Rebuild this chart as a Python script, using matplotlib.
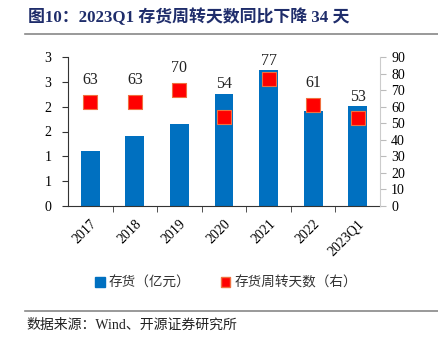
import matplotlib
matplotlib.use('Agg')
import matplotlib.pyplot as plt
from matplotlib.lines import Line2D
from matplotlib.patches import Patch

plt.rcParams['font.family'] = ['Liberation Serif', 'Noto Sans CJK SC']

years = ['2017', '2018', '2019', '2020', '2021', '2022', '2023Q1']
inventory = [1.11, 1.41, 1.66, 2.26, 2.74, 1.91, 2.01]   # left axis
turnover_days = [63, 63, 70, 54, 77, 61, 53]            # right axis
left_ticks = [0, 0.5, 1, 1.5, 2, 2.5, 3]
left_labels = ['0', '1', '1', '2', '2', '3', '3']      # excel rounds 0.5 steps
right_ticks = [0, 10, 20, 30, 40, 50, 60, 70, 80, 90]

bar_color = '#0070C0'
mk_color = '#FF0000'
title_color = '#1F2D6B'

fig = plt.figure(figsize=(4.38, 3.4), dpi=100)
ax = fig.add_axes([68 / 438, 1 - 206 / 340, 312 / 438, 149 / 340])
ax2 = ax.twinx()

x = list(range(len(years)))
ax.bar(x, inventory, width=0.42, color=bar_color, zorder=2)
ax.set_xlim(-0.5, len(years) - 0.5)
ax.set_ylim(0, 3)
ax.set_yticks(left_ticks)
ax.set_yticklabels(left_labels)
ax.set_xticks(x)
ax.set_xticklabels(years, rotation=45, ha='right', rotation_mode='anchor')
ax.set_xticks([i + 0.5 for i in x[:-1]], minor=True)
ax.tick_params(axis='x', which='major', length=0, pad=8, labelsize=10)
ax.tick_params(axis='x', which='minor', length=4, direction='out', color='#333333')
ax.tick_params(axis='y', length=4, direction='out', labelsize=10, pad=8, color='#333333')
for s in ['top', 'right']:
    ax.spines[s].set_visible(False)
ax.spines['left'].set_color('#333333')
ax.spines['bottom'].set_color('#333333')

ax2.scatter(x, turnover_days, marker='s', s=95, color=mk_color,
            edgecolors='#F07040', linewidths=0.8, zorder=3)
ax2.set_ylim(0, 90)
ax2.set_yticks(right_ticks)
ax2.tick_params(axis='y', length=4, direction='out', labelsize=10, pad=4, color='#BBBBBB')
for s in ['top', 'left', 'bottom']:
    ax2.spines[s].set_visible(False)
ax2.spines['right'].set_color('#CCCCCC')

# labels sit above whichever is higher: marker or bar
for i, (b, d) in enumerate(zip(inventory, turnover_days)):
    bar_top = b * 30
    if d + 4.5 >= bar_top:
        y, off = d, 10
    else:
        y, off = bar_top, 1
    ax2.annotate(str(d), (i, y), xytext=(0, off), textcoords='offset points',
                 ha='center', va='bottom', fontsize=11.5, color='#222222')

# legend
handles = [Patch(color=bar_color), Patch(facecolor=mk_color, edgecolor='#F07040')]
fig.legend(handles, ['存货（亿元）', '存货周转天数（右）'], loc='center',
           bbox_to_anchor=(226 / 438, 1 - 283 / 340), ncol=2, frameon=False,
           fontsize=9.8, handlelength=0.7, handleheight=0.7, columnspacing=2.2,
           handletextpad=0.3, labelcolor='#333333')

# title and source
fig.text(28 / 438, 1 - 17 / 340, '图10：2023Q1 存货周转天数同比下降 34 天',
         fontsize=12.2, fontweight='bold', color=title_color, va='center')
fig.add_artist(Line2D([25 / 438, 1], [1 - 34 / 340] * 2, color='#888888', lw=1.2))
fig.add_artist(Line2D([25 / 438, 1], [1 - 311 / 340] * 2, color='#888888', lw=1.2))
fig.text(26 / 438, 1 - 325 / 340, '数据来源：Wind、开源证券研究所',
         fontsize=10, color='#222222', va='center')

fig.savefig('out.png', dpi=100, facecolor='white')
